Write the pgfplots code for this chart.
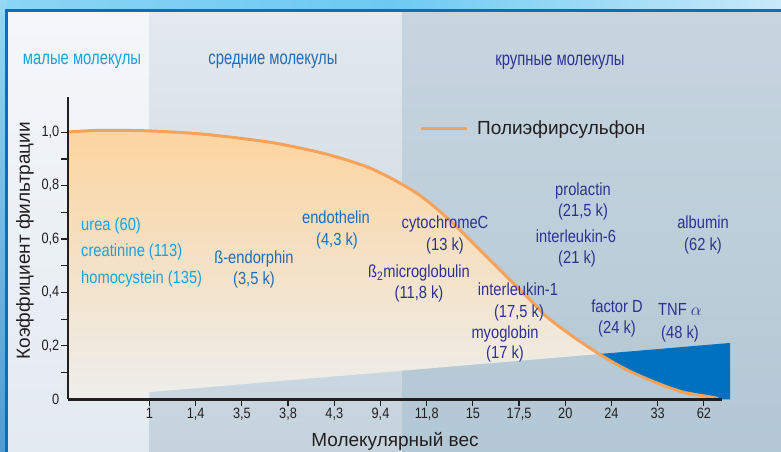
\documentclass[border=0pt]{standalone}
\usepackage{pgfplots}
\pgfplotsset{compat=1.18}
\usepackage{fontspec}
\setmainfont{Liberation Sans}
\newfontfamily\condL[FakeStretch=0.84]{Liberation Sans}
\newfontfamily\condT[FakeStretch=0.76]{Liberation Sans}
\newfontfamily\condK[FakeStretch=0.85]{Liberation Sans}
\definecolor{cyanL}{RGB}{27,161,226}
\definecolor{midB}{RGB}{31,109,181}
\definecolor{darkB}{RGB}{46,49,146}
\definecolor{axisC}{RGB}{35,31,32}
\definecolor{curveC}{RGB}{247,162,90}
\definecolor{blueF}{RGB}{0,112,192}
\definecolor{frameB}{RGB}{11,111,184}
\definecolor{fillTop}{RGB}{252,213,160}
\definecolor{fillBot}{RGB}{237,238,236}
\begin{document}
\begin{tikzpicture}[x=1pt,y=1pt]
\useasboundingbox (0,0) rectangle (781,452);
% outer frame strips
\fill[left color={rgb,255:red,139;green,212;blue,244}, right color={rgb,255:red,200;green,234;blue,250}, middle color={rgb,255:red,108;green,202;blue,242}] (0,440) rectangle (781,452);
\fill[top color={rgb,255:red,150;green,215;blue,245}, bottom color={rgb,255:red,80;green,155;blue,208}] (0,0) rectangle (7,452);
% panels
\fill[top color={rgb,255:red,244;green,247;blue,250}, bottom color={rgb,255:red,227;green,234;blue,240}] (7,0) rectangle (149,439.7);
\fill[top color={rgb,255:red,227;green,233;blue,239}, bottom color={rgb,255:red,197;green,211;blue,221}] (149,0) rectangle (402,439.7);
\fill[top color={rgb,255:red,199;green,213;blue,224}, bottom color={rgb,255:red,178;green,200;blue,212}] (402,0) rectangle (781,439.7);
\draw[frameB, line width=3pt] (6.8,0) -- (6.8,441.2) -- (781,441.2);
% region titles
\node[anchor=base, inner sep=0pt, font=\condT\fontsize{19.5}{22}\selectfont, text=cyanL] at (82,387) {малые молекулы};
\node[anchor=base, inner sep=0pt, font=\condT\fontsize{19.5}{22}\selectfont, text=midB] at (273,387) {средние молекулы};
\node[anchor=base, inner sep=0pt, font=\condT\fontsize{19.5}{22}\selectfont, text=darkB] at (560,386.5) {крупные молекулы};

\begin{axis}[
  at={(68pt,52.7pt)}, anchor=south west,
  scale only axis, width=654pt, height=302pt,
  xmin=-0.764, xmax=13.392, ymin=0, ymax=1.131,
  clip=false, axis on top,
  axis x line*=bottom, axis y line*=left,
  axis line style={line width=2.6pt, color=axisC},
  every tick/.style={line width=1.2pt, color=axisC},
  tick align=outside, major tick length=7pt, minor tick length=7pt,
  xtick={1,2,3,4,5,6,7,8,9,10,11,12,13},
  xticklabels={1,{1,4},{3,5},{3,8},{4,3},{9,4},{11,8},15,{17,5},20,24,33,62},
  ytick={0.2,0.4,0.6,0.8,1.0},
  yticklabels={{0,2},{0,4},{0,6},{0,8},{1,0}},
  minor ytick={0.1,0.3,0.5,0.7,0.9},
  extra y ticks={0}, extra y tick labels={0},
  extra y tick style={major tick style={draw=none}},
  ticklabel style={font=\condK\fontsize{15}{17}\selectfont, text=axisC, inner sep=1.5pt},
  xlabel={Молекулярный вес}, ylabel={Коэффициент фильтрации},
  label style={font=\fontsize{19}{22}\selectfont, text=axisC},
  xlabel style={at={(axis description cs:0.5,-0.1386)}, anchor=center},
  ylabel style={at={(axis description cs:-0.0657,0.525)}, anchor=center},
  legend style={at={(axis description cs:0.5367,0.8983)}, anchor=west, draw=none, fill=none, inner sep=0pt,
    font=\fontsize{19}{22}\selectfont, text=axisC, nodes={inner sep=0pt},
    /tikz/every odd column/.append style={column sep=9pt}},
  legend image code/.code={\draw[#1] (0pt,0pt) -- (46pt,0pt);},
]
% orange gradient area between curve and wedge line
\addplot[draw=none, top color=fillTop, bottom color=fillBot, forget plot] coordinates {
(-0.764,0) (-0.764,1.001) (-0.4,1.005) (-0.071,1.007) (0.5,1.007) (1.011,1.005) (1.5,1.001)
(2.093,0.994) (2.7,0.983) (3.392,0.968) (3.8,0.957) (4.258,0.941) (4.7,0.924) (5.123,0.904)
(5.45,0.886) (5.773,0.866) (6.271,0.824) (6.79,0.771) (7.223,0.713)
(7.656,0.645) (8.045,0.578) (8.37,0.522) (8.955,0.421) (9.3,0.362) (9.604,0.308) (10.167,0.235)
(10.73,0.1695) (1,0.027) (1,0)} -- cycle;
% dark blue area
\addplot[draw=none, fill=blueF, forget plot] coordinates {
(10.73,0.1695) (11.336,0.110) (11.985,0.061) (12.548,0.027) (13.132,0.009) (13.305,0.003)
(13.392,0) (13.565,0) (13.565,0.211)} -- cycle;
% curve
\addplot[curveC, line width=3pt, line join=round, smooth, tension=0.5] coordinates {
(-0.764,1.001) (-0.4,1.005) (-0.071,1.007) (0.5,1.007) (1.011,1.005) (1.5,1.001)
(2.093,0.994) (2.7,0.983) (3.392,0.968) (3.8,0.957) (4.258,0.941) (4.7,0.924) (5.123,0.904)
(5.45,0.886) (5.773,0.866) (6.271,0.824) (6.79,0.771) (7.223,0.713)
(7.656,0.645) (8.045,0.578) (8.37,0.522) (8.955,0.421) (9.3,0.362) (9.604,0.308) (10.167,0.235)
(10.73,0.170) (11.336,0.110) (11.985,0.061) (12.548,0.027) (13.132,0.009) (13.305,0.003)};
\addlegendentry{Полиэфирсульфон}
\end{axis}

% molecule labels
\begin{scope}[every node/.style={anchor=base, inner sep=0pt, font=\condL\fontsize{17.5}{20}\selectfont}]
\node[anchor=base west, text=cyanL] at (81,221) {urea (60)};
\node[anchor=base west, text=cyanL] at (81,195) {creatinine (113)};
\node[anchor=base west, text=cyanL] at (81,168.5) {homocystein (135)};
\node[text=midB] at (254,188.5) {ß-endorphin};
\node[text=midB] at (254,167.5) {(3,5 k)};
\node[text=midB] at (336,228.5) {endothelin};
\node[text=midB] at (337,206.5) {(4,3 k)};
\node[text=darkB] at (445,223.5) {cytochromeC};
\node[text=darkB] at (445,201.5) {(13 k)};
\node[text=darkB] at (419,174.5) {ß\textsubscript{2}microglobulin};
\node[text=darkB] at (419,153.5) {(11,8 k)};
\node[text=darkB] at (518,156.5) {interleukin-1};
\node[text=darkB] at (519,134.5) {(17,5 k)};
\node[text=darkB] at (505,113.5) {myoglobin};
\node[text=darkB] at (505,93.5) {(17 k)};
\node[text=darkB] at (583,256.5) {prolactin};
\node[text=darkB] at (583,235.5) {(21,5 k)};
\node[text=darkB] at (576,209.5) {interleukin-6};
\node[text=darkB] at (577,188.5) {(21 k)};
\node[text=darkB] at (617,139.5) {factor D};
\node[text=darkB] at (617,118.5) {(24 k)};
\node[text=darkB] at (680,136) {TNF $\alpha$};
\node[text=darkB] at (680,113.5) {(48 k)};
\node[text=darkB] at (703,223.5) {albumin};
\node[text=darkB] at (703,201.5) {(62 k)};
\end{scope}
\end{tikzpicture}
\end{document}
